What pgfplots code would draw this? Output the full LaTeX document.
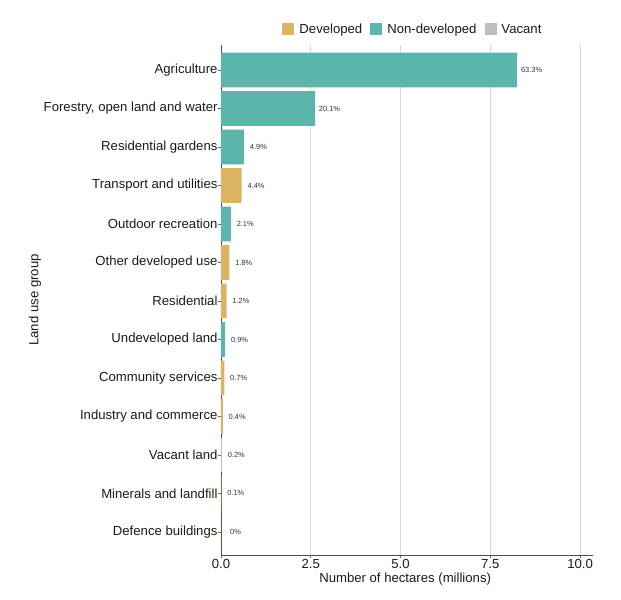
\documentclass[border=0pt]{standalone}
\usepackage{fontspec}
\setmainfont{Liberation Sans}
\usepackage{pgfplots}
\usepackage{pgfplotstable}
\pgfplotsset{compat=1.18}
\definecolor{devcol}{HTML}{DAB463}
\definecolor{nondevcol}{HTML}{5BB5AA}
\definecolor{vaccol}{HTML}{BEBEBE}
\definecolor{txtcol}{HTML}{1A1A1A}

\pgfplotstableread{
pos val lab
9 0.575 4.4
7 0.235 1.8
6 0.156 1.2
4 0.091 0.7
3 0.052 0.4
1 0.013 0.1
0 0.004 0
}\dev
\pgfplotstableread{
pos val lab
12 8.25 63.3
11 2.62 20.1
10 0.64 4.9
8 0.275 2.1
5 0.117 0.9
}\nondev
\pgfplotstableread{
pos val lab
2 0.026 0.2
}\vac

\begin{document}
\begin{tikzpicture}
\useasboundingbox (-221bp,-45bp) rectangle (400bp,555bp);
\begin{axis}[
  scale only axis,
  width=372bp, height=510bp,
  at={(0,0)}, anchor=south west,
  xbar, bar shift=0pt, bar width=0.9,
  xmin=0, xmax=10.36,
  ymin=-0.6, ymax=12.65,
  xtick={0,2.5,5,7.5,10},
  xticklabel style={yshift=1.5bp, /pgf/number format/.cd, fixed, fixed zerofill, precision=1, assume math mode=true},
  ytick={0,...,12},
  yticklabels={Defence buildings, Minerals and landfill, Vacant land, Industry and commerce, Community services, Undeveloped land, Residential, Other developed use, Outdoor recreation, Transport and utilities, Residential gardens, {Forestry, open land and water}, Agriculture},
  yticklabel style={xshift=2.5bp},
  axis x line*=bottom, axis y line*=left,
  axis line style={-, draw=black!70, line width=0.7bp},
  tick align=outside, major tick length=2.5bp,
  tick style={draw=black!60, line width=0.6bp},
  ticklabel style={font=\fontsize{13.2}{15}\selectfont, text=txtcol},
  xmajorgrids, grid style={draw=black!15, line width=0.6bp},
  xlabel={Number of hectares (millions)},
  ylabel={Land use group},
  label style={font=\fontsize{13.2}{15}\selectfont, text=txtcol},
  xlabel style={at={(axis description cs:0.495,-0.048)}, anchor=center},
  ylabel style={at={(axis description cs:-0.5,0.5)}, anchor=center},
  point meta=explicit symbolic,
  nodes near coords={\pgfplotspointmeta\%},
  every node near coord/.append style={anchor=center, xshift=14.4bp, font=\fontsize{7.5}{9}\selectfont, text=black!80},
  legend columns=3,
  legend style={at={(0.516,1)}, anchor=south, yshift=6bp, draw=none, fill=none,
    font=\fontsize{13.2}{15}\selectfont, text=txtcol,
    /tikz/every odd column/.append style={column sep=3bp},
    /tikz/every even column/.append style={column sep=6bp}},
  legend cell align=left,
  legend image code/.code={\fill[#1, draw=none] (0bp,-6bp) rectangle (12bp,6bp);},
]
\addplot[fill=devcol, draw=none] table[x=val, y=pos, meta=lab] {\dev};
\addlegendentry{Developed}
\addplot[fill=nondevcol, draw=none] table[x=val, y=pos, meta=lab] {\nondev};
\addlegendentry{Non-developed}
\addplot[fill=vaccol, draw=none] table[x=val, y=pos, meta=lab] {\vac};
\addlegendentry{Vacant}
\end{axis}
\end{tikzpicture}
\end{document}
